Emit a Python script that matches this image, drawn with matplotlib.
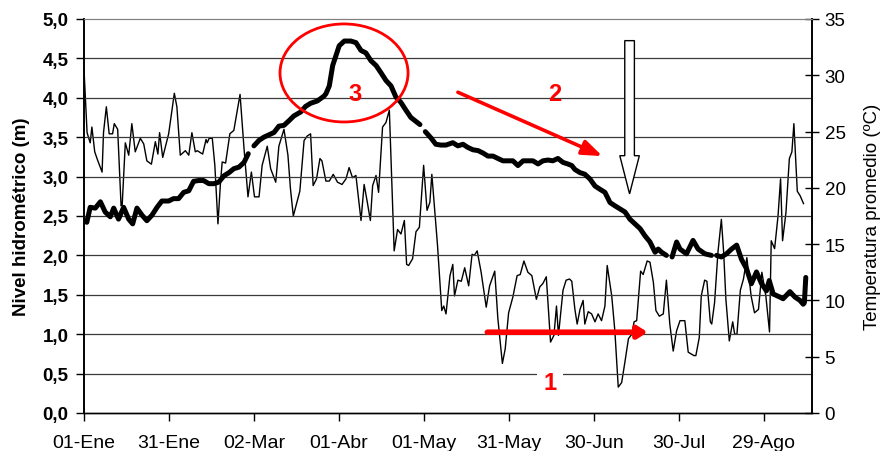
import numpy as np
import matplotlib.pyplot as plt
from matplotlib.patches import Ellipse, FancyArrow

plt.rcParams['font.family'] = ['Liberation Sans', 'DejaVu Sans']

# x axis: day of year (day 0 = 01-Ene)
tick_days = [0, 30, 60, 90, 120, 150, 180, 210, 240]
tick_labels = ["01-Ene", "31-Ene", "02-Mar", "01-Abr", "01-May",
               "31-May", "30-Jun", "30-Jul", "29-Ago"]

# water level (m), left axis; nan marks breaks in the record
level_day = [0, 1, 2.2, 4.0, 5.8, 7.5, 9.3, 10.5, 12.2, 14.0, 15.8, 17.2, 18.7,
             20.5, 22.2, 24.0, 25.8, 27.5, 29.9, 31.6, 33.4, 35.2, 37.0, 38.7,
             40.5, 42.2, 44.1, 45.9, 47.6, 49.4, 51.2, 52.9, 54.7, 56.5, 58.0,
             59.0, 60.0, 61.8, 63.5, 65.3, 67.1, 68.8, 70.6, 72.4, 74.1, 76.5,
             78.2, 80.0, 82.4, 84.7, 85.4, 86.6, 87.8, 88.9, 90.1, 91.9, 94.2,
             96.0, 97.8, 99.5, 101.3, 103.1, 104.8, 106.6, 108.4, 110.1, 111.9,
             113.7, 115.4, 117.2, 118.6, 119.5, 120.5, 122.5, 124.2, 126.0,
             127.8, 130.2, 132.0, 133.8, 135.5, 137.3, 139.1, 140.8, 142.6,
             144.4, 146.1, 147.9, 149.7, 151.4, 153.2, 155.0, 156.7, 158.5,
             160.3, 162.0, 163.8, 165.5, 167.3, 169.1, 170.8, 172.2, 173.3,
             175.1, 176.8, 178.6, 180.4, 182.1, 183.9, 185.7, 187.4, 189.2,
             191.0, 192.7, 194.5, 196.3, 198.0, 199.8, 201.6, 202.7, 203.9,
             205.6, 206.5, 207.6, 209.2, 210.4, 212.7, 215.0, 216.8, 219.2,
             221.5, 222.4, 223.3, 225.0, 226.8, 228.6, 230.4, 232.1, 233.9,
             235.6, 237.4, 239.2, 240.9, 241.9, 243.3, 245.7, 246.8, 249.2,
             251.0, 252.7, 253.9, 254.3, 254.8]
level_m = [2.45, 2.42, 2.61, 2.60, 2.68, 2.55, 2.49, 2.60, 2.46, 2.61, 2.46, 2.40,
           2.60, 2.51, 2.44, 2.51, 2.61, 2.69, 2.69, 2.72, 2.72, 2.80, 2.82, 2.94,
           2.95, 2.95, 2.91, 2.91, 2.93, 3.01, 3.05, 3.10, 3.12, 3.18, 3.29,
           np.nan, 3.39, 3.46, 3.50, 3.53, 3.56, 3.64, 3.65, 3.71, 3.77, 3.82,
           3.89, 3.93, 3.96, 4.02, 4.05, 4.15, 4.41, 4.53, 4.66, 4.72, 4.72,
           4.70, 4.60, 4.57, 4.47, 4.41, 4.32, 4.22, 4.15, 4.01, 3.94,
           3.84, 3.75, 3.70, 3.66, np.nan, 3.57, 3.49, 3.41, 3.40,
           3.40, 3.43, 3.39, 3.41, 3.37, 3.34, 3.33, 3.30, 3.26,
           3.26, 3.23, 3.20, 3.20, 3.20, 3.14, 3.20, 3.20, 3.20,
           3.16, 3.20, 3.21, 3.20, 3.23, 3.18, 3.16, 3.14, 3.09,
           3.05, 3.03, 2.97, 2.88, 2.84, 2.80, 2.67, 2.63, 2.59,
           2.55, 2.46, 2.40, 2.34, 2.25, 2.17, 2.04, 2.08, 2.04,
           2.00, np.nan, 1.98, 2.17, 2.08, 2.02, 2.19, 2.08, 2.02,
           2.00, np.nan, 2.00, 1.98, 2.02, 2.08, 2.13, 1.95, 1.83,
           1.64, 1.79, 1.64, 1.55, 1.68, 1.51, 1.47, 1.45, 1.54,
           1.47, 1.43, 1.38, 1.40, 1.72]

# mean temperature (ºC), right axis
temp_day = [0, 1.1, 2.2, 2.8, 3.8, 4.9, 6.4, 6.9, 7.9, 8.9, 10.1, 10.7, 11.9, 13.1,
            13.5, 14.6, 15.8, 16.9, 18.1, 19.9, 21.1, 22.2, 23.8, 25.2, 26.1,
            26.7, 27.8, 29.9, 30.8, 31.9, 32.8, 34.0, 35.8, 37.0, 38.1, 39.3,
            40.0, 41.9, 43.1, 43.5, 44.2, 45.3, 46.2, 47.3, 48.2, 48.8, 50.0,
            51.5, 52.9, 55.1, 56.5, 57.9, 59.1, 60.2, 61.8, 62.9, 64.7, 65.9,
            67.7, 68.8, 70.6, 72.0, 72.9, 73.9, 76.2, 77.7, 78.8, 80.0, 80.9,
            82.1, 83.3, 84.0, 85.4, 86.6, 88.0, 89.5, 91.1, 92.5, 93.6, 94.8,
            96.0, 97.8, 98.9, 99.9, 101.1, 101.9, 103.1, 104.0, 105.4, 106.6,
            107.8, 109.5, 110.7, 111.9, 113.1, 113.9, 114.6, 116.0, 117.2,
            118.4, 119.9, 121.1, 122.1, 122.8, 124.8, 126.3, 127.0, 127.8,
            129.2, 130.2, 130.8, 132.0, 133.2, 134.4, 135.8, 137.0, 137.8,
            138.8, 140.2, 142.0, 143.2, 145.0, 146.1, 147.7, 148.7, 149.9,
            151.4, 152.9, 154.0, 155.3, 156.7, 158.1, 159.7, 160.9, 162.0,
            163.2, 164.7, 165.9, 166.8, 167.5, 169.1, 170.2, 171.4, 172.2,
            173.3, 174.1, 175.1, 176.2, 176.8, 178.0, 179.2, 180.4, 181.5,
            182.7, 183.9, 184.7, 186.3, 187.4, 188.6, 189.8, 191.0, 192.2,
            193.4, 194.2, 195.1, 196.5, 197.4, 198.8, 199.8, 201.0, 201.9,
            203.1, 204.5, 205.6, 206.8, 208.0, 209.2, 210.4, 212.1, 213.3,
            215.3, 216.0, 217.2, 217.9, 219.1, 219.9, 221.1, 221.6, 222.6,
            223.8, 225.0, 225.8, 226.6, 227.8, 229.0, 229.7, 230.5, 231.7,
            232.8, 234.0, 235.5, 236.7, 238.1, 239.3, 240.7, 242.0, 242.6,
            243.8, 245.0, 245.9, 246.6, 247.8, 249.0, 249.9, 250.6, 251.8,
            252.8, 254.0]
temp_c = [30.6, 24.9, 24.0, 25.4, 23.2, 22.4, 21.4, 24.9, 27.2, 24.8, 24.8, 25.7, 25.2, 18.4,
          18.5, 24.0, 22.9, 25.7, 23.2, 24.4, 23.9, 22.4, 22.1, 24.1, 23.0,
          24.9, 22.7, 24.8, 26.4, 28.4, 27.2, 22.9, 23.3, 22.9, 24.9, 23.2,
          23.3, 23.0, 24.3, 24.0, 24.4, 24.4, 22.0, 16.8, 20.5, 22.3, 22.2,
          24.8, 25.1, 28.3, 23.5, 19.2, 21.4, 19.2, 19.2, 22.0, 23.7, 21.7,
          20.5, 23.7, 25.2, 22.9, 19.9, 17.5, 19.7, 24.2, 24.6, 24.8, 20.2,
          20.8, 22.6, 22.4, 20.6, 20.6, 21.2, 20.5, 20.3, 20.8, 21.8, 20.9,
          21.1, 17.1, 20.3, 18.9, 17.1, 20.2, 21.1, 19.6, 25.4, 25.8,
          26.9, 14.4, 16.3, 15.9, 17.1, 13.2, 13.1, 13.7, 16.1,
          16.5, 22.0, 18.0, 18.7, 21.2, 14.9, 9.1, 9.5, 8.8,
          12.2, 13.2, 10.4, 11.8, 11.7, 12.9, 11.3, 14.1, 14.0,
          14.4, 12.5, 9.4, 11.3, 12.6, 8.4, 4.4, 5.7, 8.9,
          10.3, 12.2, 12.3, 13.5, 12.5, 12.2, 10.1, 11.2, 11.5,
          12.1, 6.3, 6.9, 9.5, 6.9, 10.9, 11.8, 11.9, 11.7,
          9.2, 7.9, 9.2, 10.0, 7.9, 9.0, 8.8, 8.1, 8.8,
          8.2, 9.5, 13.1, 10.4, 7.3, 2.3, 2.7, 4.6, 6.6,
          7.0, 8.1, 8.2, 12.6, 12.3, 13.5, 13.4, 11.6, 9.1,
          8.6, 8.8, 11.8, 7.9, 5.5, 7.3, 8.2, 8.2, 5.4,
          5.1, 5.1, 6.7, 10.4, 11.8, 11.7, 8.1, 7.9, 9.8,
          14.3, 17.2, 14.3, 10.1, 6.4, 8.1, 7.0, 7.0, 10.9,
          11.9, 13.8, 10.4, 8.9, 9.2, 12.5, 10.4, 7.2, 15.3,
          14.6, 17.5, 20.8, 15.3, 17.8, 22.6, 23.2, 25.7, 19.7,
          19.3, 18.6]

fig = plt.figure(figsize=(8.81, 4.52), dpi=100)
ax = fig.add_axes([0.0953, 0.0841, 0.8264, 0.8717])
ax2 = ax.twinx()

# gridlines from the left axis
for v in np.arange(0.5, 5.0, 0.5):
    ax.axhline(v, color='#3a3a3a', lw=0.9, zorder=0)

ax2.plot(temp_day, temp_c, color='black', lw=1.0, zorder=2)
ax.plot(level_day, level_m, color='black', lw=3.6, solid_capstyle='round',
        solid_joinstyle='round', zorder=3)

ax.set_zorder(ax2.get_zorder() + 1)
ax.patch.set_visible(False)

ax.set_xlim(0, 257)
ax.set_ylim(0, 5)
ax2.set_ylim(0, 35)

ax.set_xticks(tick_days)
ax.set_xticklabels(tick_labels)
ax.set_yticks(np.arange(0, 5.01, 0.5))
ax.set_yticklabels([f"{v:.1f}".replace('.', ',') for v in np.arange(0, 5.01, 0.5)],
                   fontweight='bold')
ax2.set_yticks(range(0, 36, 5))

ax.tick_params(axis='x', direction='out', length=6, width=1, labelsize=14, pad=9)
ax.tick_params(axis='y', direction='out', length=6, width=1, labelsize=13.5, pad=5)
ax2.tick_params(axis='y', direction='inout', length=10, width=1, labelsize=13.5, pad=4)

for a in (ax, ax2):
    a.spines['top'].set_color('#808080')
    a.spines['left'].set_linewidth(1.2)
    a.spines['right'].set_linewidth(1.2)
    a.spines['bottom'].set_linewidth(1.0)

ax.set_ylabel("Nivel hidrométrico (m)", fontsize=13.5, fontweight='bold')
ax.yaxis.set_label_coords(-0.074, 0.5)
ax2.set_ylabel("Temperatura promedio (ºC)", fontsize=13.5, rotation=90)
ax2.yaxis.set_label_coords(1.071, 0.5)

# annotations
ax.add_patch(Ellipse((91.8, 4.315), 45.2, 1.244, fill=False, edgecolor='red',
                     lw=2.0, zorder=5))
ax.text(95.7, 4.05, "3", color='red', fontsize=17, fontweight='bold',
        ha='center', va='center', zorder=6)

ax.annotate("", xy=(183.0, 3.26), xytext=(132.0, 4.07),
            arrowprops=dict(arrowstyle='-|>,head_length=1.2,head_width=0.45',
                            color='red', lw=2.6, shrinkA=0, shrinkB=0), zorder=6)
ax.text(166.3, 4.05, "2", color='red', fontsize=17, fontweight='bold',
        ha='center', va='center', zorder=6)

ax.annotate("", xy=(199.0, 1.025), xytext=(142.4, 1.025),
            arrowprops=dict(arrowstyle='-|>,head_length=0.55,head_width=0.35',
                            color='red', lw=4.0, shrinkA=0, shrinkB=0), zorder=6)
ax.text(164.5, 0.39, "1", color='red', fontsize=17, fontweight='bold',
        ha='center', va='center', zorder=6,
        bbox=dict(facecolor='white', edgecolor='none', pad=5))

ax.add_patch(FancyArrow(192.6, 4.725, 0, -1.945, width=3.4, head_width=6.9,
                        head_length=0.485, length_includes_head=True,
                        facecolor='white', edgecolor='black', lw=1.0, zorder=6))

fig.savefig("out.png", dpi=100)
